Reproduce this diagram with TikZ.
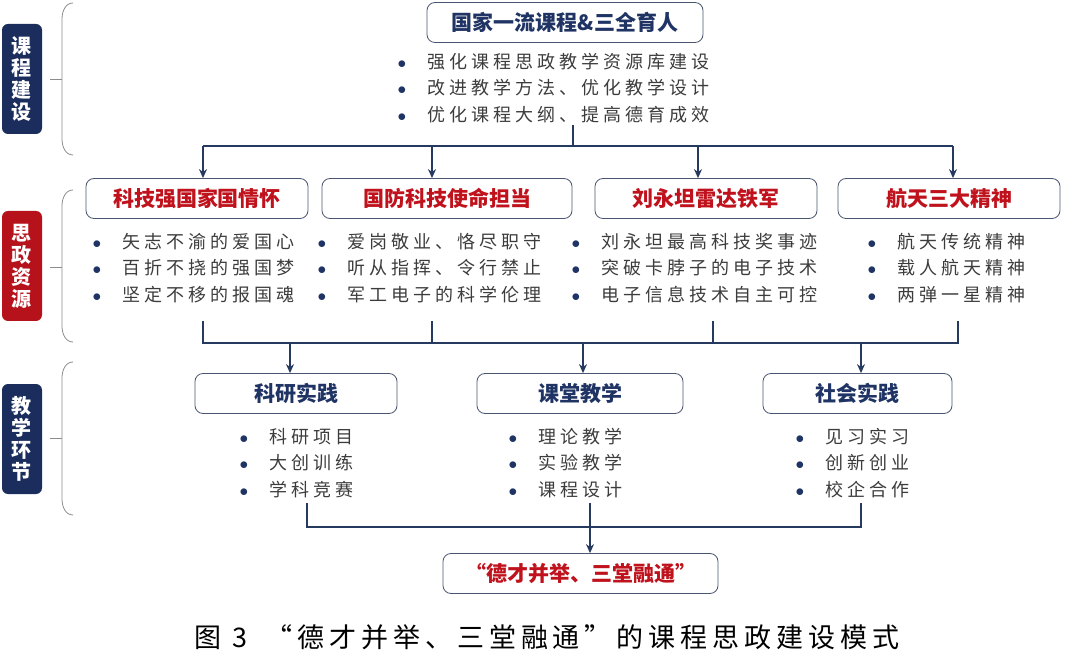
\documentclass[tikz,border=0pt]{standalone}
\usepackage{fontspec}
\setmainfont{Noto Sans CJK SC}
\newfontfamily\itemfont[LetterSpace=22]{Noto Sans CJK SC}
\newfontfamily\capfont[LetterSpace=18.5]{Noto Sans CJK SC}
\usetikzlibrary{arrows.meta, positioning, calc}
\definecolor{navyside}{HTML}{1B2D5C}
\definecolor{redside}{HTML}{B5121C}
\definecolor{navytext}{HTML}{1F3464}
\definecolor{redtext}{HTML}{C0121C}
\definecolor{boxline}{HTML}{4A5670}
\definecolor{linkline}{HTML}{26395F}
\definecolor{itemgray}{HTML}{3C3C3C}
\definecolor{bracegray}{HTML}{8C8C8C}

\newcommand{\bl}[1]{\makebox[30pt][l]{\color{navytext}$\bullet$}#1}

\tikzset{
  sidebox/.style={rounded corners=6pt, minimum width=40pt, minimum height=110pt, inner sep=0pt,
    text=white, align=center, font=\fontsize{20}{22}\selectfont\bfseries},
  titlebox/.style={draw=boxline, line width=0.8pt, rounded corners=8pt, fill=white,
    minimum height=40pt, font=\fontsize{21}{21}\selectfont\bfseries},
  itemlist/.style={anchor=north west, inner sep=0pt, align=left, text=itemgray,
    font=\itemfont\fontsize{18}{26.5}\selectfont},
  link/.style={draw=linkline, line width=1.1pt},
  linkarrow/.style={link, -{Stealth[length=9pt, width=8pt]}},
  bracket/.style={draw=bracegray, line width=0.8pt}
}

\begin{document}
\begin{tikzpicture}[x=1pt, y=-1pt]
  \useasboundingbox (0,0) rectangle (1080,655);

  % Side labels
  \node[sidebox, fill=navyside] (sidecourse) at (22,79) {课\\程\\建\\设};
  \node[sidebox, fill=redside] (sideresource) at (22,266) {思\\政\\资\\源};
  \node[sidebox, fill=navyside] (sideteach) at (22,439) {教\\学\\环\\节};

  % Brackets beside the side labels
  \foreach \t/\m/\b in {3/79/155, 190/267/342, 362/438/515} {
    \draw[bracket] (73,\t) to[out=180, in=90] (62,\t+16) -- (62,\b-16) to[out=-90, in=180] (73,\b);
    \draw[bracket] (50,\m) -- (62,\m);
  }

  % Course construction
  \node[titlebox, text=navytext, minimum width=276pt] (course) at (565,22.5) {国家一流课程\&三全育人};
  \node[itemlist] (courseitems) at (397.5,52.7)
    {\bl{强化课程思政教学资源库建设}\\ \bl{改进教学方法、优化教学设计}\\ \bl{优化课程大纲、提高德育成效}};

  % Ideological resources
  \node[titlebox, text=redtext, minimum width=222pt] (resA) at (197,198.5) {科技强国家国情怀};
  \node[titlebox, text=redtext, minimum width=250pt] (resB) at (447,198.5) {国防科技使命担当};
  \node[titlebox, text=redtext, minimum width=222pt] (resC) at (706,198.5) {刘永坦雷达铁军};
  \node[titlebox, text=redtext, minimum width=222pt] (resD) at (949,198.5) {航天三大精神};

  \node[itemlist] (resAitems) at (92.5,232.7)
    {\bl{矢志不渝的爱国心}\\ \bl{百折不挠的强国梦}\\ \bl{坚定不移的报国魂}};
  \node[itemlist] (resBitems) at (317.5,232.7)
    {\bl{爱岗敬业、恪尽职守}\\ \bl{听从指挥、令行禁止}\\ \bl{军工电子的科学伦理}};
  \node[itemlist] (resCitems) at (571.5,232.7)
    {\bl{刘永坦最高科技奖事迹}\\ \bl{突破卡脖子的电子技术}\\ \bl{电子信息技术自主可控}};
  \node[itemlist] (resDitems) at (867.5,232.7)
    {\bl{航天传统精神}\\ \bl{载人航天精神}\\ \bl{两弹一星精神}};

  % Teaching links
  \node[titlebox, text=navytext, minimum width=202pt] (linkA) at (296,393.5) {科研实践};
  \node[titlebox, text=navytext, minimum width=206pt] (linkB) at (580,393.5) {课堂教学};
  \node[titlebox, text=navytext, minimum width=189pt] (linkC) at (857.5,393.5) {社会实践};

  \node[itemlist] (linkAitems) at (239.5,427.7) {\bl{科研项目}\\ \bl{大创训练}\\ \bl{学科竞赛}};
  \node[itemlist] (linkBitems) at (508.5,427.7) {\bl{理论教学}\\ \bl{实验教学}\\ \bl{课程设计}};
  \node[itemlist] (linkCitems) at (795.5,427.7) {\bl{见习实习}\\ \bl{创新创业}\\ \bl{校企合作}};

  % Goal
  \node[titlebox, text=redtext, minimum width=275pt] (goal) at (580.5,573.5) {“德才并举、三堂融通”};

  % Bus from course to resources
  \coordinate (topsplit) at (573,146);
  \coordinate (busA) at (203,146);
  \coordinate (busB) at (432,146);
  \coordinate (busC) at (698,146);
  \coordinate (busD) at (953,146);
  \draw[link] (573,125) -- (topsplit);
  \draw[link] (busA) -- (busD);
  \draw[linkarrow] (busA) -- (busA |- resA.north);
  \draw[linkarrow] (busB) -- (busB |- resB.north);
  \draw[linkarrow] (busC) -- (busC |- resC.north);
  \draw[linkarrow] (busD) -- (busD |- resD.north);

  % Bus from resources to teaching links
  \coordinate (midA) at (203,343);
  \coordinate (midB) at (432,343);
  \coordinate (midC) at (713,343);
  \coordinate (midD) at (958,343);
  \draw[link] (203,321) -- (midA) -- (midD) -- (958,321);
  \draw[link] (432,321) -- (midB);
  \draw[link] (713,321) -- (midC);
  \coordinate (toA) at (290,343);
  \coordinate (toB) at (583,343);
  \coordinate (toC) at (861,343);
  \draw[linkarrow] (toA) -- (toA |- linkA.north);
  \draw[linkarrow] (toB) -- (toB |- linkB.north);
  \draw[linkarrow] (toC) -- (toC |- linkC.north);

  % Bus from teaching links to goal
  \coordinate (lowA) at (307,527);
  \coordinate (lowC) at (861,527);
  \draw[link] (307,503) -- (lowA) -- (lowC) -- (861,503);
  \coordinate (goalin) at (590,503);
  \draw[linkarrow] (goalin) -- (goalin |- goal.north);

  % Caption
  \node[font=\capfont\fontsize{27}{27}\selectfont, text=black] (caption) at (547,637)
    {图 3\hspace{18pt}“德才并举、三堂融通”的课程思政建设模式};
\end{tikzpicture}
\end{document}
